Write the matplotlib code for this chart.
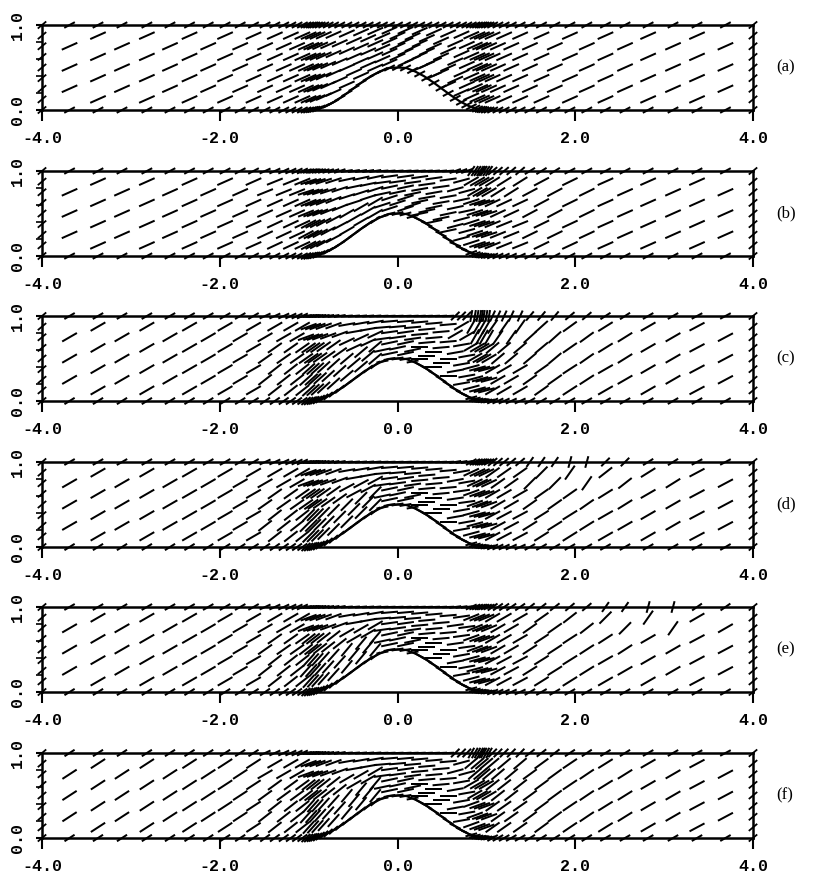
import numpy as np
import matplotlib
matplotlib.use("Agg")
import matplotlib.pyplot as plt

# ---------------- data ----------------
panel_labels = ["(a)", "(b)", "(c)", "(d)", "(e)", "(f)"]
x_ticks = [-4.0, -2.0, 0.0, 2.0, 4.0]
x_tick_labels = ["-4.0", "-2.0", "0.0", "2.0", "4.0"]
y_ticks = [0.0, 1.0]
y_tick_labels = ["0.0", "1.0"]
y_minor = [0.2, 0.4, 0.6, 0.8]

# bump profile
bump_x = [-1.0, -0.9, -0.8, -0.7, -0.6, -0.5, -0.4, -0.3, -0.2, -0.1, 0.0,
          0.1, 0.2, 0.3, 0.4, 0.5, 0.6, 0.7, 0.8, 0.9, 1.0]
bump_h = [0.0, 0.012, 0.048, 0.103, 0.173, 0.25, 0.327, 0.397, 0.452, 0.494, 0.5,
          0.494, 0.452, 0.397, 0.327, 0.25, 0.173, 0.103, 0.048, 0.012, 0.0]

# mesh columns for x < 0 (mirrored for x > 0)
col_x_left = [-3.69, -3.37, -3.10, -2.82, -2.56, -2.34, -2.13, -1.94, -1.77,
              -1.62, -1.49, -1.38, -1.28, -1.20, -1.13, -1.07, -1.03, -1.00,
              -0.97, -0.95, -0.93, -0.90, -0.87, -0.83, -0.78, -0.72, -0.65,
              -0.57, -0.49, -0.41, -0.33, -0.25, -0.17, -0.09]
col_x_center = [0.0]
rows_type_a = [0.25, 0.5, 0.75]
rows_type_b = [0.125, 0.375, 0.625, 0.875]
rows_boundary = [0.0, 1.0]
rows_side = [0.0, 0.125, 0.25, 0.375, 0.5, 0.625, 0.75, 0.875, 1.0]

# angle tables (degrees, on screen): rows = bottom, low, mid, high, top
zone_edges = [-2.5, -1.5, -1.05, -0.6, -0.2, 0.2, 0.6, 0.8, 1.05, 1.4, 1.8, 2.2, 2.6, 3.2]
band_edges = [0.06, 0.44, 0.69, 0.97]

angles_a = [
    [28, 28, 28, 28, 28, 28, 28, 28, 28, 28, 28, 28, 28, 28, 28],
    [24, 24, 24, 24, 24, 24, 24, 24, 24, 24, 24, 24, 24, 24, 24],
    [24, 24, 24, 24, 24, 24, 24, 24, 24, 24, 24, 24, 24, 24, 24],
    [24, 24, 24, 24, 24, 24, 24, 24, 24, 24, 24, 24, 24, 24, 24],
    [28, 28, 28, 28, 28, 28, 28, 28, 28, 28, 28, 28, 28, 28, 28],
]
angles_b = [
    [28, 28, 28, 32, 35, 15, -25, -20, 20, 25, 28, 28, 28, 28, 28],
    [24, 24, 25, 28, 30, 18, 12, 15, 18, 22, 26, 25, 24, 24, 24],
    [24, 24, 24, 22, 18, 12, 10, 12, 18, 25, 28, 26, 24, 24, 24],
    [24, 24, 22, 18, 12, 8, 8, 15, 30, 32, 28, 26, 24, 24, 24],
    [28, 28, 25, 18, 10, 5, 5, 20, 55, 40, 32, 28, 28, 28, 28],
]
angles_c = [
    [32, 32, 35, 40, 38, 10, -30, -25, 15, 25, 30, 30, 30, 30, 30],
    [30, 30, 38, 42, 40, 12, 0, 10, 15, 30, 35, 33, 30, 30, 28],
    [30, 30, 35, 35, 25, 8, 5, 10, 30, 40, 40, 35, 32, 30, 28],
    [30, 30, 30, 20, 10, 5, 5, 30, 60, 55, 42, 36, 32, 30, 28],
    [30, 30, 25, 10, 5, 3, 3, 45, 80, 65, 50, 40, 33, 30, 28],
]
angles_d = [
    [32, 32, 35, 42, 38, 10, -30, -25, 15, 25, 30, 30, 30, 30, 30],
    [30, 30, 38, 45, 45, 12, 0, 10, 15, 28, 32, 32, 30, 30, 28],
    [30, 30, 35, 35, 28, 8, 5, 8, 20, 30, 35, 35, 32, 30, 28],
    [30, 30, 30, 20, 10, 5, 5, 10, 25, 35, 45, 55, 38, 32, 28],
    [30, 30, 25, 10, 5, 3, 3, 10, 30, 40, 55, 75, 45, 32, 28],
]
angles_e = [
    [32, 32, 35, 42, 38, 10, -30, -25, 15, 25, 30, 30, 30, 30, 30],
    [30, 30, 38, 48, 50, 12, 0, 10, 15, 28, 32, 32, 30, 30, 28],
    [30, 30, 35, 38, 30, 8, 5, 8, 20, 30, 33, 33, 33, 30, 28],
    [30, 30, 30, 20, 10, 5, 5, 8, 22, 30, 35, 38, 45, 55, 30],
    [30, 30, 25, 10, 5, 3, 3, 8, 25, 35, 38, 40, 55, 75, 35],
]
angles_f = [
    [33, 33, 36, 42, 40, 10, -30, -25, 15, 30, 32, 32, 30, 30, 30],
    [33, 33, 38, 48, 50, 12, 0, 10, 20, 35, 36, 34, 32, 30, 28],
    [33, 33, 36, 38, 30, 8, 5, 10, 30, 38, 36, 34, 32, 30, 28],
    [33, 33, 30, 20, 10, 5, 5, 15, 40, 40, 36, 34, 32, 30, 28],
    [33, 33, 25, 10, 5, 3, 3, 45, 60, 45, 38, 34, 32, 30, 28],
]
panel_angles = [angles_a, angles_b, angles_c, angles_d, angles_e, angles_f]
side_angle = [40, 40, 40, 40, 40, 40]

# ---------------- style ----------------
FIG_W, FIG_H, DPI = 823, 877, 100
AX_LEFT, AX_RIGHT = 42, 753
AX_TOPS = [25, 171, 316, 462, 607, 753]
AX_H = 85
LEN_INT, LEN_BND, LEN_SIDE = 17, 12, 11
tick_font = dict(family="Liberation Mono", weight="bold", size=12)

fig = plt.figure(figsize=(FIG_W / DPI, FIG_H / DPI), dpi=DPI)

# build mesh
col_x = col_x_left + col_x_center + [-v for v in reversed(col_x_left)]
node_x, node_eta, node_len = [], [], []
for i, cx in enumerate(col_x):
    rows = rows_type_a if i % 2 == 0 else rows_type_b
    for e in rows:
        node_x.append(cx); node_eta.append(e); node_len.append(LEN_INT)
    for e in rows_boundary:
        node_x.append(cx); node_eta.append(e); node_len.append(LEN_BND)
node_x = np.array(node_x)
node_eta = np.array(node_eta)
node_len = np.array(node_len, dtype=float)
hx = np.interp(node_x, bump_x, bump_h)
node_y = hx + node_eta * (1 - hx)
zone_idx = np.digitize(node_x, zone_edges)
band_idx = np.digitize(node_eta, band_edges)

side_x = np.array([-4.0] * len(rows_side) + [4.0] * len(rows_side))
side_y = np.array(rows_side + rows_side)

for p in range(6):
    top = AX_TOPS[p]
    ax = fig.add_axes([AX_LEFT / FIG_W, 1 - (top + AX_H) / FIG_H,
                       (AX_RIGHT - AX_LEFT) / FIG_W, AX_H / FIG_H])
    ax.set_xlim(-4, 4)
    ax.set_ylim(0, 1)
    tab = np.array(panel_angles[p])
    ang = tab[band_idx, zone_idx]
    ax.quiver(node_x, node_y, node_len, np.zeros_like(node_len), angles=ang,
              scale_units="dots", scale=1, units="dots", width=2.0,
              headwidth=0, headlength=0, headaxislength=0, pivot="middle",
              color="black", clip_on=False, zorder=3)
    ax.quiver(side_x, side_y, np.full(side_x.shape, LEN_SIDE), np.zeros(side_x.shape),
              angles=np.full(side_x.shape, side_angle[p]),
              scale_units="dots", scale=1, units="dots", width=1.8,
              headwidth=0, headlength=0, headaxislength=0, pivot="middle",
              color="black", clip_on=False, zorder=3)
    ax.plot(bump_x, bump_h, color="black", lw=1.6, zorder=4)

    for s in ax.spines.values():
        s.set_linewidth(1.8)
    ax.set_xticks(x_ticks)
    ax.set_xticklabels(x_tick_labels, fontdict=tick_font)
    ax.set_yticks(y_ticks)
    ax.set_yticklabels(y_tick_labels, fontdict=tick_font, rotation=90, va="center")
    ax.set_yticks(y_minor, minor=True)
    ax.tick_params(axis="x", direction="out", length=8, width=1.5, pad=7)
    ax.tick_params(axis="y", which="major", direction="out", length=4, width=1.5, pad=8)
    ax.tick_params(axis="y", which="minor", direction="out", length=4, width=1.2)
    ax.text(1.032, 0.5, panel_labels[p], transform=ax.transAxes, ha="left",
            va="center", fontsize=12, family="Liberation Serif")

fig.savefig("out.png", dpi=DPI)
